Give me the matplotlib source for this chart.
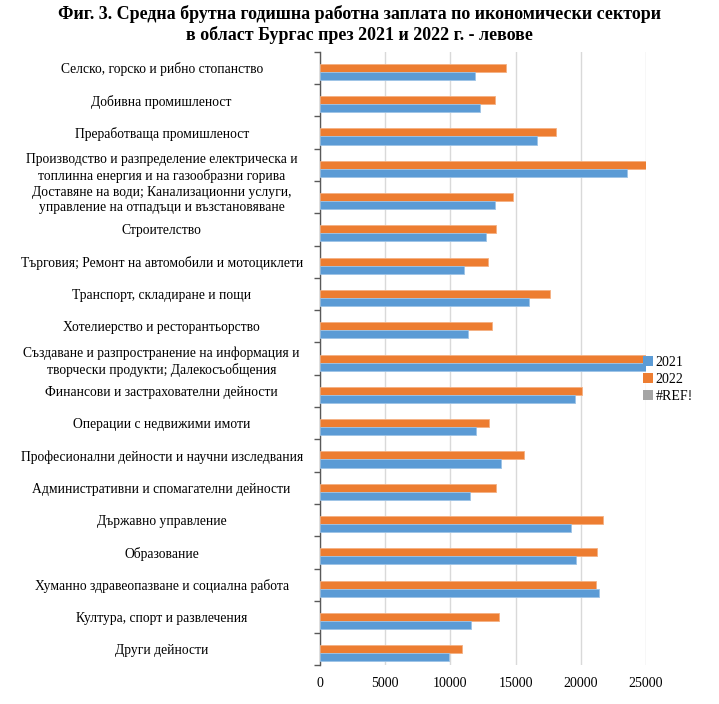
import matplotlib
matplotlib.use("Agg")
import matplotlib.pyplot as plt
from matplotlib.patches import Patch
import numpy as np

plt.rcParams['font.family'] = ['Liberation Serif', 'DejaVu Serif']

categories = [
    "Селско, горско и рибно стопанство",
    "Добивна промишленост",
    "Преработваща промишленост",
    "Производство и разпределение електрическа и\nтоплинна енергия и на газообразни горива",
    "Доставяне на води; Канализационни услуги,\nуправление на отпадъци и възстановяване",
    "Строителство",
    "Търговия; Ремонт на автомобили и мотоциклети",
    "Транспорт, складиране и пощи",
    "Хотелиерство и ресторантьорство",
    "Създаване и разпространение на информация и\nтворчески продукти; Далекосъобщения",
    "Финансови и застрахователни дейности",
    "Операции с недвижими имоти",
    "Професионални дейности и научни изследвания",
    "Административни и спомагателни дейности",
    "Държавно управление",
    "Образование",
    "Хуманно здравеопазване и социална работа",
    "Култура, спорт и развлечения",
    "Други дейности",
]
values_2021 = [11900, 12280, 16660, 23570, 13450, 12740, 11060, 16030, 11360, 26000,
               19540, 11950, 13910, 11470, 19240, 19670, 21380, 11590, 9860]
values_2022 = [14300, 13450, 18120, 25000, 14800, 13480, 12870, 17600, 13200, 27000,
               20100, 12970, 15620, 13500, 21730, 21270, 21150, 13710, 10880]
x_ticks = [0, 5000, 10000, 15000, 20000, 25000]
title = "Фиг. 3. Средна брутна годишна работна заплата по икономически сектори\nв област Бургас през 2021 и 2022 г. - левове"

blue = "#5B9BD5"
orange = "#ED7D31"
gray = "#A5A5A5"

fig = plt.figure(figsize=(7.19, 7.04), dpi=100)
ax = fig.add_axes([320/719, 1-665.4/704, (646-320)/719, (665.4-51.7)/704])

n = len(categories)
y = np.arange(n)
h = 0.25
ax.barh(y, values_2022, height=h, color=orange, edgecolor="#F4B183", linewidth=0.6, zorder=3)
ax.barh(y + h, values_2021, height=h, color=blue, edgecolor="#9DC3E6", linewidth=0.6, zorder=3)

ax.set_xlim(0, 25000)
ax.set_ylim(n - 0.5, -0.5)
ax.set_xticks(x_ticks)
ax.set_xticklabels([str(v) for v in x_ticks], fontsize=10)
ax.tick_params(axis='x', length=0, pad=8)
ax.grid(axis='x', color="#D9D9D9", linewidth=1, zorder=0)

# category boundaries as major ticks, labels on minor ticks at centers
ax.set_yticks(np.arange(n + 1) - 0.5)
ax.set_yticklabels([])
ax.tick_params(axis='y', which='major', length=4, width=1, color="#595959", direction='out')
ax.set_yticks(y, minor=True)
ax.set_yticklabels(categories, minor=True, fontsize=9.8, ha='center', multialignment='center',
                   linespacing=1.25)
ax.tick_params(axis='y', which='minor', length=0, pad=114)

for s in ['top', 'right', 'bottom']:
    ax.spines[s].set_visible(False)
ax.spines['left'].set_color("#595959")
ax.spines['left'].set_linewidth(1)

fig.text(0.5, 1 - 24.5/704, title, ha='center', va='center', fontsize=13,
         fontweight='bold', linespacing=1.15)

handles = [Patch(facecolor=blue, label="2021"),
           Patch(facecolor=orange, label="2022"),
           Patch(facecolor=gray, label="#REF!")]
fig.legend(handles=handles, loc='upper left', bbox_to_anchor=(640/719, 1 - 353/704),
           frameon=False, fontsize=10, handlelength=0.7, handleheight=0.7,
           handletextpad=0.2, labelspacing=0.3, borderpad=0.2, borderaxespad=0)

fig.savefig("out.png", dpi=100)
